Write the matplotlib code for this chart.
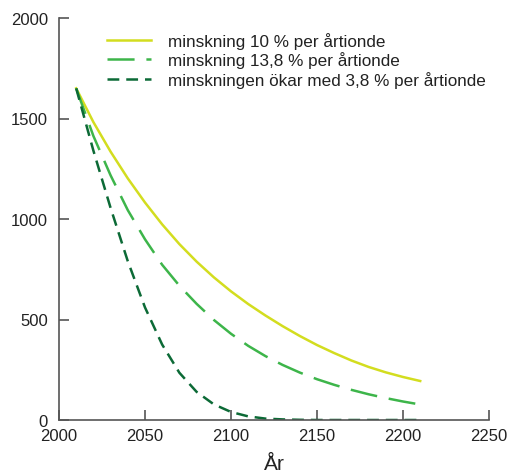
import matplotlib
matplotlib.use("Agg")
import matplotlib.pyplot as plt

plt.rcParams['font.family'] = ['Liberation Sans', 'DejaVu Sans']
plt.rcParams['lines.scale_dashes'] = False

# Years (every decade from 2010 to 2210)
years = list(range(2010, 2211, 10))

# Values
minskning_10 = [1650, 1482, 1335, 1202, 1082, 973, 875, 788, 710, 640, 577,
                520, 467, 418, 373, 333, 296, 264, 237, 214, 194]
minskning_138 = [1650, 1413, 1217, 1044, 899, 772, 668, 578, 498, 429, 369,
                 318, 274, 236, 203, 175, 150, 128, 109, 92, 77]
minskning_okar = [1650, 1340, 1055, 790, 560, 375, 235, 140, 78, 40, 18,
                  7, 3, 1, 0, 0, 0, 0, 0, 0, 0]

labels = ['minskning 10 % per årtionde',
          'minskning 13,8 % per årtionde',
          'minskningen ökar med 3,8 % per årtionde']

text_color = '#222222'
axis_color = '#555555'

fig = plt.figure(figsize=(5.10, 4.77), dpi=100)
ax = fig.add_axes([59 / 510, 1 - 421 / 477, 430 / 510, 402 / 477])

ax.plot(years, minskning_10, color='#d3dd1f', linewidth=1.8,
        solid_joinstyle='round', label=labels[0])
ax.plot(years, minskning_138, color='#3db54a', linewidth=1.8,
        dashes=(19.5, 8.5), dash_joinstyle='round', label=labels[1])
ax.plot(years, minskning_okar, color='#0c6a36', linewidth=1.8,
        dashes=(8.5, 5), dash_joinstyle='round', label=labels[2])

ax.set_xlim(2000, 2250)
ax.set_ylim(0, 2000)
ax.set_xticks([2000, 2050, 2100, 2150, 2200, 2250])
ax.set_yticks([0, 500, 1000, 1500, 2000])

for side in ['top', 'right']:
    ax.spines[side].set_visible(False)
for side in ['left', 'bottom']:
    ax.spines[side].set_color(axis_color)
    ax.spines[side].set_linewidth(1.2)

ax.tick_params(axis='x', direction='in', length=7, width=1.2, color=axis_color,
               labelsize=12, labelcolor=text_color, pad=6)
ax.tick_params(axis='y', direction='in', length=7, width=1.2, color=axis_color,
               labelsize=12, labelcolor=text_color, pad=8)

ax.set_xlabel('År', fontsize=15, color=text_color, labelpad=8)

fig.legend(loc='upper left', bbox_to_anchor=(107 / 510, 1 - 33 / 477),
           bbox_transform=fig.transFigure, frameon=False, fontsize=12.3,
           handlelength=2.55, handletextpad=1.0, labelspacing=0.15,
           borderpad=0, borderaxespad=0, labelcolor=text_color)

fig.savefig('out.png', dpi=100)
